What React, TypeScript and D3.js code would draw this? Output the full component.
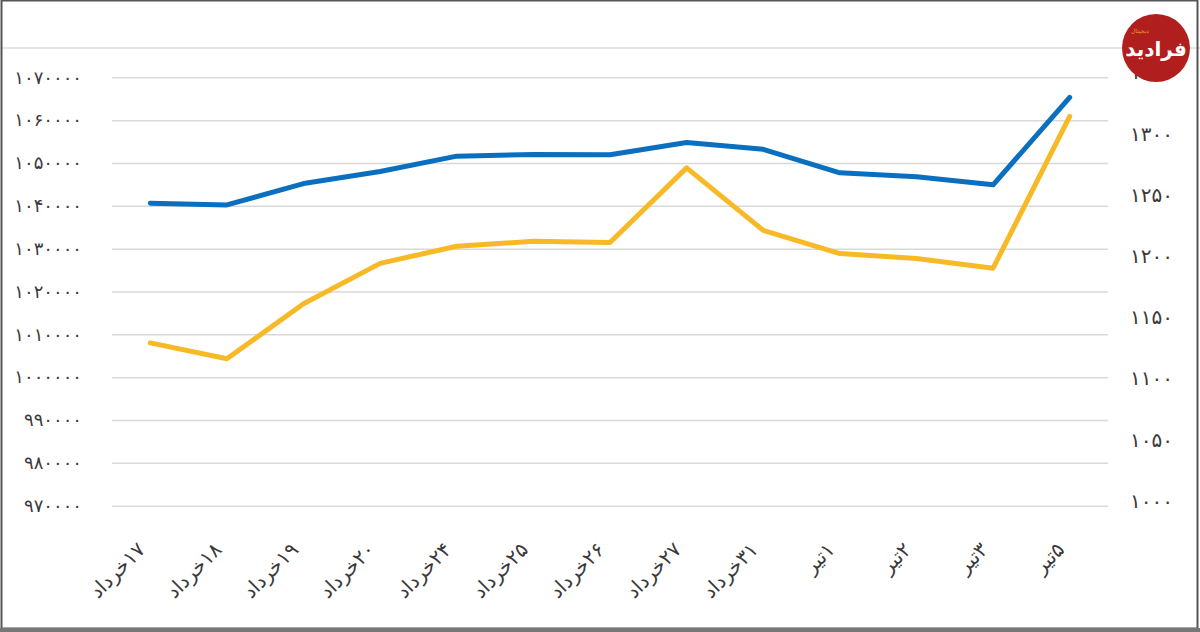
import { useEffect, useRef } from 'react';
import * as d3 from 'd3';

// categories (Persian dates)
const categories = [
  '۱۷خرداد', '۱۸خرداد', '۱۹خرداد', '۲۰خرداد', '۲۴خرداد', '۲۵خرداد', '۲۶خرداد',
  '۲۷خرداد', '۳۱خرداد', '۱تیر', '۲تیر', '۳تیر', '۵تیر',
];

// blue series, left axis
const blueValues = [
  1040600, 1040200, 1045200, 1048000, 1051600, 1052000, 1051900,
  1054800, 1053200, 1047700, 1046800, 1044900, 1065300,
];

// yellow series, right axis
const yellowValues = [
  1133, 1120, 1165, 1198, 1212, 1216, 1215,
  1276, 1225, 1206, 1202, 1194, 1318,
];

const leftTicks = [970000, 980000, 990000, 1000000, 1010000, 1020000, 1030000, 1040000, 1050000, 1060000, 1070000];
const rightTicks = [1000, 1050, 1100, 1150, 1200, 1250, 1300, 1350];

const W = 1200;
const H = 632;

const faDigits = (n: number | string) =>
  String(n).replace(/\d/g, (d) => '۰۱۲۳۴۵۶۷۸۹'[+d]);

export default function App() {
  const svgRef = useRef<SVGSVGElement>(null);

  useEffect(() => {
    document.body.style.margin = '0';
    if (!svgRef.current) return;

    const svg = d3.select(svgRef.current);
    svg.selectAll('*').remove();

    const plot = { left: 112, right: 1108, top: 77.3, bottom: 505.7 };
    const font = '"DejaVu Sans", sans-serif';

    const x = d3.scalePoint<string>()
      .domain(categories)
      .range([plot.left, plot.right])
      .padding(0.5);

    const yLeft = d3.scaleLinear()
      .domain([970000, 1070000])
      .range([plot.bottom, plot.top]);

    const yRight = d3.scaleLinear()
      .domain([1000, 1350])
      .range([plot.bottom, plot.top]);

    svg.append('rect')
      .attr('width', W)
      .attr('height', H)
      .attr('fill', '#fff');

    // top separator line of the picture
    svg.append('line')
      .attr('x1', 0).attr('x2', W)
      .attr('y1', 48).attr('y2', 48)
      .attr('stroke', '#dcdcdc')
      .attr('stroke-width', 1.5);

    // grid lines
    svg.append('g')
      .attr('transform', `translate(${plot.left},0)`)
      .call(d3.axisLeft(yLeft).tickValues(leftTicks).tickSize(-(plot.right - plot.left)).tickFormat(() => ''))
      .call((g) => g.select('.domain').remove())
      .call((g) => g.selectAll('.tick line').attr('stroke', '#d9d9d9').attr('stroke-width', 1.5));

    // left axis labels
    svg.append('g')
      .selectAll('text')
      .data(leftTicks)
      .enter()
      .append('text')
      .attr('x', 82)
      .attr('y', (d) => yLeft(d))
      .attr('dy', '0.35em')
      .attr('text-anchor', 'end')
      .attr('fill', '#3a3a3a')
      .style('font-family', font)
      .style('font-size', '18px')
      .text((d) => faDigits(d));

    // right axis labels
    svg.append('g')
      .selectAll('text')
      .data(rightTicks)
      .enter()
      .append('text')
      .attr('x', 1130)
      .attr('y', (d) => yRight(d) - 5)
      .attr('dy', '0.35em')
      .attr('text-anchor', 'start')
      .attr('fill', '#3a3a3a')
      .style('font-family', font)
      .style('font-size', '20px')
      .text((d) => faDigits(d));

    // x labels, rotated; rtl so the right end sits at the anchor
    svg.append('g')
      .selectAll('g')
      .data(categories)
      .enter()
      .append('g')
      .attr('transform', (d) => `translate(${(x(d) || 0) - 9},546) rotate(-45)`)
      .append('text')
      .attr('direction', 'rtl')
      .attr('dy', '0.35em')
      .attr('fill', '#3a3a3a')
      .style('font-family', font)
      .style('font-size', '20px')
      .text((d) => d);

    const lineLeft = d3.line<number>()
      .x((_, i) => x(categories[i]) || 0)
      .y((d) => yLeft(d));

    const lineRight = d3.line<number>()
      .x((_, i) => x(categories[i]) || 0)
      .y((d) => yRight(d));

    svg.append('path')
      .datum(yellowValues)
      .attr('d', lineRight)
      .attr('fill', 'none')
      .attr('stroke', '#f8b926')
      .attr('stroke-width', 5)
      .attr('stroke-linejoin', 'round')
      .attr('stroke-linecap', 'round');

    svg.append('path')
      .datum(blueValues)
      .attr('d', lineLeft)
      .attr('fill', 'none')
      .attr('stroke', '#0b6fbf')
      .attr('stroke-width', 5)
      .attr('stroke-linejoin', 'round')
      .attr('stroke-linecap', 'round');

    // logo
    const logo = svg.append('g').attr('transform', 'translate(1156,48)');
    logo.append('circle').attr('r', 34).attr('fill', '#b01e1e');
    logo.append('text')
      .attr('text-anchor', 'middle')
      .attr('dy', '0.4em')
      .attr('fill', '#fff')
      .style('font-family', font)
      .style('font-weight', 'bold')
      .style('font-size', '20px')
      .text('فرادید');
    logo.append('text')
      .attr('x', -16)
      .attr('y', -15)
      .attr('text-anchor', 'middle')
      .attr('fill', '#f29a2e')
      .style('font-family', font)
      .style('font-size', '6px')
      .text('دیجیتال');

    // frame
    svg.append('rect')
      .attr('x', 1.5).attr('y', 0.5)
      .attr('width', W - 4).attr('height', H - 4)
      .attr('fill', 'none')
      .attr('stroke', '#555')
      .attr('stroke-width', 2);
    svg.append('rect')
      .attr('x', 0).attr('y', 628)
      .attr('width', W).attr('height', 4)
      .attr('fill', '#777');
  }, []);

  return (
    <div style={{ position: 'absolute', left: 0, top: 0 }}>
      <svg ref={svgRef} width={W} height={H} style={{ display: 'block' }} />
    </div>
  );
}
